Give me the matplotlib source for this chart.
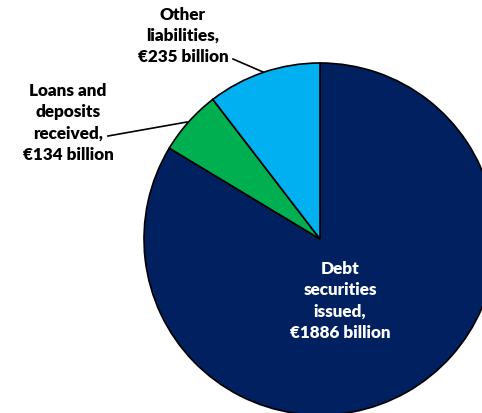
import matplotlib.pyplot as plt
from matplotlib.lines import Line2D

# data
labels = ["Debt\nsecurities\nissued,\n€1886 billion",
          "Loans and\ndeposits\nreceived,\n€134 billion",
          "Other\nliabilities,\n€235 billion"]
values = [1886, 134, 235]
colors = ["#002060", "#00B050", "#00B0F0"]

W, H = 482, 414
fig = plt.figure(figsize=(W / 100, H / 100), dpi=100)

# pie centre (320, 240) px, radius 176 px
cx, cy, r = 320, 240, 176
ax = fig.add_axes([(cx - r) / W, (H - cy - r) / H, 2 * r / W, 2 * r / H])
ax.pie(values, colors=colors, startangle=90, counterclock=False,
       wedgeprops=dict(edgecolor="black", linewidth=1.2), radius=1)
ax.set_xlim(-1, 1)
ax.set_ylim(-1, 1)
ax.set_aspect("auto")
ax.axis("off")

font = dict(family=["Lato", "DejaVu Sans"], fontweight="heavy", fontsize=12.3,
            ha="center", va="center", linespacing=1.4)

def px(x, y):
    return x / W, 1 - y / H

fig.text(*px(340, 301), labels[0], color="white", **font)
fig.text(*px(68, 123), labels[1], color="black", **font)
fig.text(*px(183, 36), labels[2], color="black", **font)

# leader lines
for (x0, y0), (x1, y1) in [((108, 137), (187, 123)), ((233, 60), (263, 73))]:
    a, b = px(x0, y0)
    c, d = px(x1, y1)
    fig.add_artist(Line2D([a, c], [b, d], color="black", linewidth=1.2))

plt.savefig("out.png", dpi=100)
